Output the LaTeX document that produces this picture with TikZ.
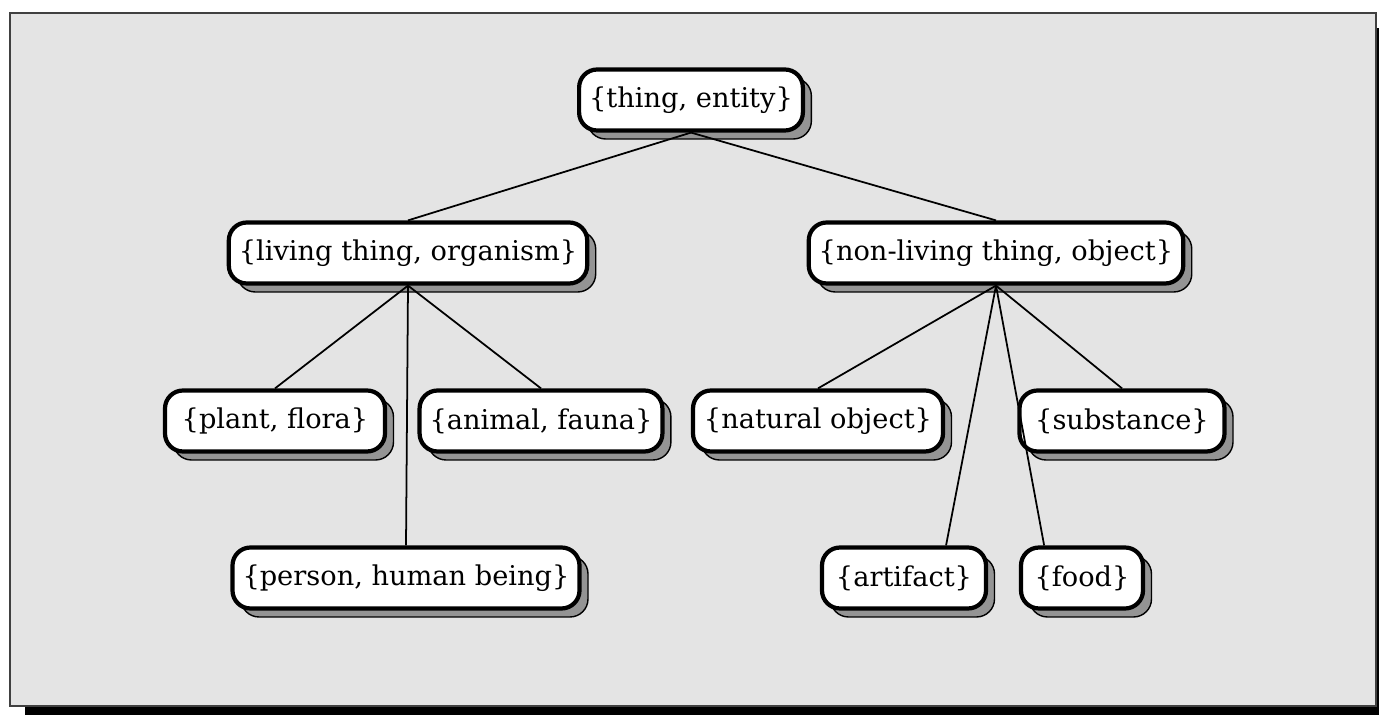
\documentclass[tikz,border=0pt]{standalone}
\usepackage{fontspec}
\setmainfont{DejaVu Serif}
\usepackage{tikz}
\usetikzlibrary{calc, shadows}

\tikzset{
	box/.style={draw, line width=2.4pt, rounded corners=0.36cm, fill=white,
		minimum height=1.22cm, inner xsep=0.2cm,
		font=\fontsize{15.5}{18}\selectfont,
		drop shadow={shadow xshift=0.17cm, shadow yshift=-0.17cm,
			fill=black!42, draw=black, line width=0.8pt, opacity=1}},
	wd/.style={minimum width=#1*0.02cm},
	link/.style={line width=1pt}
}

\begin{document}
\begin{tikzpicture}[x=0.02cm, y=-0.02cm]
	\useasboundingbox (0,0) rectangle (1379,715);
	% frame
	\fill[black] (25,28) rectangle (1379,715);
	\draw[fill=gray!21, draw=black!75, line width=0.8pt] (10,13) rectangle (1376,706);
	
	% top level
	\node[box, wd=217] (thing) at (691,100) {\{thing, entity\}};
	\node[box, wd=353] (living) at (408,253) {\{living thing, organism\}};
	\node[box, wd=373] (nonliving) at (996,253) {\{non-living thing, object\}};
	% third row
	\node[box, wd=220] (plant) at (275,421) {\{plant, flora\}};
	\node[box, wd=232] (animal) at (541,421) {\{animal, fauna\}};
	\node[box, wd=250] (natural) at (818,421) {\{natural object\}};
	\node[box, wd=205] (substance) at (1122,421) {\{substance\}};
	% bottom row
	\node[box, wd=345] (person) at (406,578) {\{person, human being\}};
	\node[box, wd=164] (artifact) at (904,578) {\{artifact\}};
	\node[box, wd=122] (food) at (1082,578) {\{food\}};
	
	% links
	\draw[link] (thing.south) -- (living.north);
	\draw[link] (thing.south) -- (nonliving.north);
	\draw[link] (living.south) -- (plant.north);
	\draw[link] (living.south) -- (person.north);
	\draw[link] (living.south) -- (animal.north);
	\draw[link] (nonliving.south) -- (natural.north);
	\draw[link] (nonliving.south) -- ($(artifact.north)!0.5!(artifact.north east)$);
	\draw[link] (nonliving.south) -- ($(food.north west)!0.2!(food.north east)$);
	\draw[link] (nonliving.south) -- (substance.north);
\end{tikzpicture}
\end{document}
